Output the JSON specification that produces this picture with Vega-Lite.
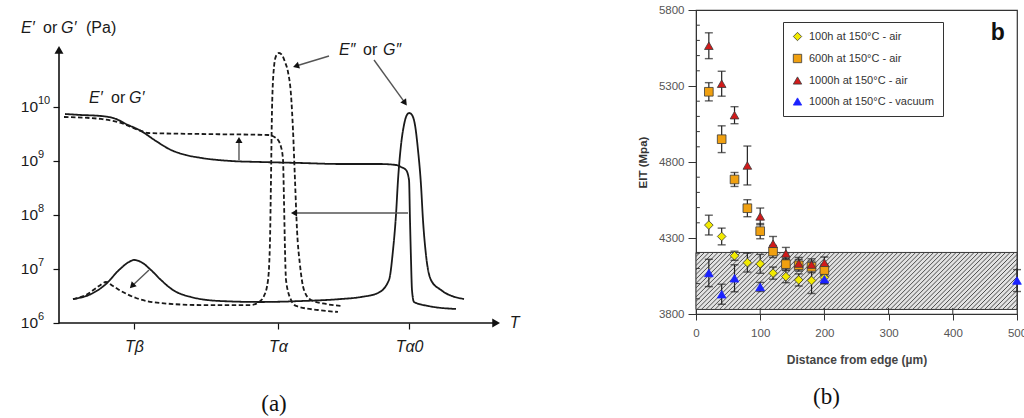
{
  "$schema": "https://vega.github.io/schema/vega-lite/v6.json",
  "background": "white",
  "padding": {"left": 20, "top": 3, "right": 5, "bottom": 5},
  "bounds": "flush",
  "spacing": 195,
  "config": {"font": "Liberation Sans", "view": {"stroke": null}, "axis": {"grid": false}},
  "resolve": {
    "scale": {"x": "independent", "y": "independent", "color": "independent", "shape": "independent", "stroke": "independent", "strokeDash": "independent", "angle": "independent"},
    "legend": {"color": "independent", "shape": "independent", "stroke": "independent", "strokeDash": "independent"}
  },
  "datasets": {
    "curves": [
      {"q": "E′", "state": "initial", "T": 1.36, "modulus": 7.41e9},
      {"q": "E′", "state": "initial", "T": 4.98, "modulus": 7.11e9},
      {"q": "E′", "state": "initial", "T": 9.5, "modulus": 6.81e9},
      {"q": "E′", "state": "initial", "T": 12.9, "modulus": 6.0e9},
      {"q": "E′", "state": "initial", "T": 15.16, "modulus": 4.84e9},
      {"q": "E′", "state": "initial", "T": 18.55, "modulus": 3.6e9},
      {"q": "E′", "state": "initial", "T": 21.95, "modulus": 2.34e9},
      {"q": "E′", "state": "initial", "T": 25.34, "modulus": 1.6e9},
      {"q": "E′", "state": "initial", "T": 28.73, "modulus": 1.29e9},
      {"q": "E′", "state": "initial", "T": 32.13, "modulus": 1.14e9},
      {"q": "E′", "state": "initial", "T": 38.91, "modulus": 1.0e9},
      {"q": "E′", "state": "initial", "T": 45.7, "modulus": 9.57e8},
      {"q": "E′", "state": "initial", "T": 54.75, "modulus": 9.18e8},
      {"q": "E′", "state": "initial", "T": 63.8, "modulus": 8.79e8},
      {"q": "E′", "state": "initial", "T": 72.85, "modulus": 8.79e8},
      {"q": "E′", "state": "initial", "T": 76.24, "modulus": 8.43e8},
      {"q": "E′", "state": "initial", "T": 77.38, "modulus": 7.74e8},
      {"q": "E′", "state": "initial", "T": 78.51, "modulus": 6.81e8},
      {"q": "E′", "state": "initial", "T": 79.19, "modulus": 4.45e8},
      {"q": "E′", "state": "initial", "T": 79.41, "modulus": 8.07e7},
      {"q": "E′", "state": "initial", "T": 79.64, "modulus": 1.47e7},
      {"q": "E′", "state": "initial", "T": 79.86, "modulus": 4.08e6},
      {"q": "E′", "state": "initial", "T": 80.32, "modulus": 2.45e6},
      {"q": "E′", "state": "initial", "T": 83.48, "modulus": 2.07e6},
      {"q": "E′", "state": "initial", "T": 89.82, "modulus": 1.82e6},
      {"q": "E′", "state": "aged", "T": 1.13, "modulus": 6.53e9},
      {"q": "E′", "state": "aged", "T": 9.5, "modulus": 6.0e9},
      {"q": "E′", "state": "aged", "T": 14.03, "modulus": 5.06e9},
      {"q": "E′", "state": "aged", "T": 18.55, "modulus": 3.6e9},
      {"q": "E′", "state": "aged", "T": 20.14, "modulus": 3.3e9},
      {"q": "E′", "state": "aged", "T": 32.13, "modulus": 3.16e9},
      {"q": "E′", "state": "aged", "T": 47.29, "modulus": 3.03e9},
      {"q": "E′", "state": "aged", "T": 49.1, "modulus": 2.67e9},
      {"q": "E′", "state": "aged", "T": 50.23, "modulus": 1.82e9},
      {"q": "E′", "state": "aged", "T": 50.68, "modulus": 1.045e9},
      {"q": "E′", "state": "aged", "T": 50.9, "modulus": 1.9e8},
      {"q": "E′", "state": "aged", "T": 51.13, "modulus": 2.25e7},
      {"q": "E′", "state": "aged", "T": 51.36, "modulus": 6.25e6},
      {"q": "E′", "state": "aged", "T": 52.49, "modulus": 2.67e6},
      {"q": "E′", "state": "aged", "T": 53.62, "modulus": 2.07e6},
      {"q": "E′", "state": "aged", "T": 58.6, "modulus": 1.74e6},
      {"q": "E′", "state": "aged", "T": 63.12, "modulus": 1.6e6},
      {"q": "E″", "state": "initial", "T": 3.17, "modulus": 2.78e6},
      {"q": "E″", "state": "initial", "T": 7.24, "modulus": 3.44e6},
      {"q": "E″", "state": "initial", "T": 10.63, "modulus": 5.27e6},
      {"q": "E″", "state": "initial", "T": 13.57, "modulus": 9.57e6},
      {"q": "E″", "state": "initial", "T": 15.84, "modulus": 1.35e7},
      {"q": "E″", "state": "initial", "T": 16.97, "modulus": 1.47e7},
      {"q": "E″", "state": "initial", "T": 18.55, "modulus": 1.35e7},
      {"q": "E″", "state": "initial", "T": 20.81, "modulus": 9.57e6},
      {"q": "E″", "state": "initial", "T": 23.08, "modulus": 6.25e6},
      {"q": "E″", "state": "initial", "T": 25.79, "modulus": 4.08e6},
      {"q": "E″", "state": "initial", "T": 29.86, "modulus": 3.03e6},
      {"q": "E″", "state": "initial", "T": 36.65, "modulus": 2.55e6},
      {"q": "E″", "state": "initial", "T": 45.7, "modulus": 2.45e6},
      {"q": "E″", "state": "initial", "T": 54.75, "modulus": 2.55e6},
      {"q": "E″", "state": "initial", "T": 63.8, "modulus": 2.78e6},
      {"q": "E″", "state": "initial", "T": 68.33, "modulus": 3.03e6},
      {"q": "E″", "state": "initial", "T": 72.17, "modulus": 3.6e6},
      {"q": "E″", "state": "initial", "T": 74.66, "modulus": 6.25e6},
      {"q": "E″", "state": "initial", "T": 75.57, "modulus": 2.25e7},
      {"q": "E″", "state": "initial", "T": 76.24, "modulus": 1.0e8},
      {"q": "E″", "state": "initial", "T": 76.7, "modulus": 4.45e8},
      {"q": "E″", "state": "initial", "T": 77.38, "modulus": 1.98e9},
      {"q": "E″", "state": "initial", "T": 78.05, "modulus": 4.64e9},
      {"q": "E″", "state": "initial", "T": 78.51, "modulus": 6.53e9},
      {"q": "E″", "state": "initial", "T": 79.19, "modulus": 7.74e9},
      {"q": "E″", "state": "initial", "T": 79.86, "modulus": 7.11e9},
      {"q": "E″", "state": "initial", "T": 80.54, "modulus": 4.64e9},
      {"q": "E″", "state": "initial", "T": 81.22, "modulus": 1.6e9},
      {"q": "E″", "state": "initial", "T": 81.9, "modulus": 3.6e8},
      {"q": "E″", "state": "initial", "T": 82.35, "modulus": 8.07e7},
      {"q": "E″", "state": "initial", "T": 83.03, "modulus": 1.82e7},
      {"q": "E″", "state": "initial", "T": 84.16, "modulus": 6.25e6},
      {"q": "E″", "state": "initial", "T": 86.43, "modulus": 4.08e6},
      {"q": "E″", "state": "initial", "T": 91.63, "modulus": 2.78e6},
      {"q": "E″", "state": "aged", "T": 3.17, "modulus": 2.78e6},
      {"q": "E″", "state": "aged", "T": 6.11, "modulus": 3.3e6},
      {"q": "E″", "state": "aged", "T": 9.05, "modulus": 4.84e6},
      {"q": "E″", "state": "aged", "T": 10.63, "modulus": 5.74e6},
      {"q": "E″", "state": "aged", "T": 12.22, "modulus": 4.84e6},
      {"q": "E″", "state": "aged", "T": 14.03, "modulus": 3.92e6},
      {"q": "E″", "state": "aged", "T": 17.42, "modulus": 2.9e6},
      {"q": "E″", "state": "aged", "T": 23.08, "modulus": 2.34e6},
      {"q": "E″", "state": "aged", "T": 32.13, "modulus": 2.15e6},
      {"q": "E″", "state": "aged", "T": 43.44, "modulus": 2.15e6},
      {"q": "E″", "state": "aged", "T": 45.25, "modulus": 2.45e6},
      {"q": "E″", "state": "aged", "T": 46.38, "modulus": 3.16e6},
      {"q": "E″", "state": "aged", "T": 47.29, "modulus": 6.25e6},
      {"q": "E″", "state": "aged", "T": 47.74, "modulus": 3.44e7},
      {"q": "E″", "state": "aged", "T": 47.96, "modulus": 4.45e8},
      {"q": "E″", "state": "aged", "T": 48.19, "modulus": 8.79e9},
      {"q": "E″", "state": "aged", "T": 48.64, "modulus": 5.5e10},
      {"q": "E″", "state": "aged", "T": 49.1, "modulus": 8.79e10},
      {"q": "E″", "state": "aged", "T": 49.77, "modulus": 1.0e11},
      {"q": "E″", "state": "aged", "T": 50.45, "modulus": 9.18e10},
      {"q": "E″", "state": "aged", "T": 51.13, "modulus": 6.81e10},
      {"q": "E″", "state": "aged", "T": 51.81, "modulus": 4.45e10},
      {"q": "E″", "state": "aged", "T": 52.49, "modulus": 1.67e10},
      {"q": "E″", "state": "aged", "T": 52.94, "modulus": 3.75e9},
      {"q": "E″", "state": "aged", "T": 53.39, "modulus": 4.45e8},
      {"q": "E″", "state": "aged", "T": 53.85, "modulus": 5.27e7},
      {"q": "E″", "state": "aged", "T": 54.52, "modulus": 1.19e7},
      {"q": "E″", "state": "aged", "T": 55.43, "modulus": 4.08e6},
      {"q": "E″", "state": "aged", "T": 57.01, "modulus": 2.67e6},
      {"q": "E″", "state": "aged", "T": 60.41, "modulus": 2.25e6},
      {"q": "E″", "state": "aged", "T": 63.8, "modulus": 2.07e6}
    ],
    "axesA": [
      {"axis": "modulus", "T1": 0, "v1": 1e6, "T2": 0, "v2": 1.14e11, "angle": 0},
      {"axis": "temperature", "T1": 0, "v1": 1e6, "T2": 98.9, "v2": 1e6, "angle": 90}
    ],
    "tickLabelsA": [
      {"modulus": 1e6, "exponent": "6"},
      {"modulus": 1e7, "exponent": "7"},
      {"modulus": 1e8, "exponent": "8"},
      {"modulus": 1e9, "exponent": "9"},
      {"modulus": 1e10, "exponent": "10"}
    ],
    "arrows": [
      {"note": "E′ rise", "T1": 40.72, "v1": 1.045e9, "T2": 40.72, "v2": 2.45e9, "angle": 0},
      {"note": "Tα shift", "T1": 78.96, "v1": 1.09e8, "T2": 53.17, "v2": 1.09e8, "angle": 270},
      {"note": "Tβ drop", "T1": 20.36, "v1": 9.57e6, "T2": 16.52, "v2": 4.84e6, "angle": 225},
      {"note": "label to Tα peak", "T1": 61.09, "v1": 8.79e10, "T2": 53.62, "v2": 5.74e10, "angle": 253},
      {"note": "label to Tα0 peak", "T1": 71.27, "v1": 7.41e10, "T2": 78.28, "v2": 1.19e10, "angle": 144}
    ],
    "italicLabels": [
      {"text": "E′", "T": -8.6, "modulus": 2.9e11},
      {"text": "G′", "T": 0.45, "modulus": 2.9e11},
      {"text": "E′", "T": 6.79, "modulus": 1.47e10},
      {"text": "G′", "T": 15.84, "modulus": 1.47e10},
      {"text": "E″", "T": 63.35, "modulus": 1.14e11},
      {"text": "G″", "T": 73.3, "modulus": 1.14e11},
      {"text": "T", "T": 102.0, "modulus": 1e6}
    ],
    "romanLabels": [
      {"text": "or", "T": -3.62, "modulus": 2.9e11},
      {"text": "(Pa)", "T": 6.11, "modulus": 2.9e11},
      {"text": "or", "T": 11.76, "modulus": 1.47e10},
      {"text": "or", "T": 68.78, "modulus": 1.14e11}
    ],
    "eit": [
      {"series": "100h at 150°C - air", "d": 20, "eit": 4385, "lo": 4320, "hi": 4450},
      {"series": "100h at 150°C - air", "d": 40, "eit": 4310, "lo": 4255, "hi": 4365},
      {"series": "100h at 150°C - air", "d": 60, "eit": 4183, "lo": 4153, "hi": 4213},
      {"series": "100h at 150°C - air", "d": 80, "eit": 4138, "lo": 4076, "hi": 4200},
      {"series": "100h at 150°C - air", "d": 100, "eit": 4130, "lo": 4068, "hi": 4192},
      {"series": "100h at 150°C - air", "d": 120, "eit": 4069, "lo": 4029, "hi": 4109},
      {"series": "100h at 150°C - air", "d": 140, "eit": 4046, "lo": 4006, "hi": 4086},
      {"series": "100h at 150°C - air", "d": 160, "eit": 4024, "lo": 3984, "hi": 4064},
      {"series": "100h at 150°C - air", "d": 180, "eit": 4020, "lo": 3935, "hi": 4105},
      {"series": "100h at 150°C - air", "d": 200, "eit": 4040, "lo": 4000, "hi": 4080},
      {"series": "600h at 150°C - air", "d": 20, "eit": 5262, "lo": 5202, "hi": 5322},
      {"series": "600h at 150°C - air", "d": 40, "eit": 4950, "lo": 4862, "hi": 5038},
      {"series": "600h at 150°C - air", "d": 60, "eit": 4685, "lo": 4639, "hi": 4731},
      {"series": "600h at 150°C - air", "d": 80, "eit": 4496, "lo": 4440, "hi": 4552},
      {"series": "600h at 150°C - air", "d": 100, "eit": 4345, "lo": 4295, "hi": 4395},
      {"series": "600h at 150°C - air", "d": 120, "eit": 4211, "lo": 4171, "hi": 4251},
      {"series": "600h at 150°C - air", "d": 140, "eit": 4128, "lo": 4090, "hi": 4166},
      {"series": "600h at 150°C - air", "d": 160, "eit": 4120, "lo": 4082, "hi": 4158},
      {"series": "600h at 150°C - air", "d": 180, "eit": 4110, "lo": 4072, "hi": 4148},
      {"series": "600h at 150°C - air", "d": 200, "eit": 4089, "lo": 4051, "hi": 4127},
      {"series": "1000h at 150°C - air", "d": 20, "eit": 5565, "lo": 5480, "hi": 5650},
      {"series": "1000h at 150°C - air", "d": 40, "eit": 5315, "lo": 5233, "hi": 5397},
      {"series": "1000h at 150°C - air", "d": 60, "eit": 5108, "lo": 5052, "hi": 5164},
      {"series": "1000h at 150°C - air", "d": 80, "eit": 4777, "lo": 4649, "hi": 4905},
      {"series": "1000h at 150°C - air", "d": 100, "eit": 4442, "lo": 4387, "hi": 4497},
      {"series": "1000h at 150°C - air", "d": 120, "eit": 4262, "lo": 4214, "hi": 4310},
      {"series": "1000h at 150°C - air", "d": 140, "eit": 4198, "lo": 4158, "hi": 4238},
      {"series": "1000h at 150°C - air", "d": 160, "eit": 4132, "lo": 4092, "hi": 4172},
      {"series": "1000h at 150°C - air", "d": 180, "eit": 4125, "lo": 4087, "hi": 4163},
      {"series": "1000h at 150°C - air", "d": 200, "eit": 4137, "lo": 4099, "hi": 4175},
      {"series": "1000h at 150°C - vacuum", "d": 20, "eit": 4070, "lo": 3980, "hi": 4160},
      {"series": "1000h at 150°C - vacuum", "d": 40, "eit": 3930, "lo": 3864, "hi": 3996},
      {"series": "1000h at 150°C - vacuum", "d": 60, "eit": 4035, "lo": 3946, "hi": 4124},
      {"series": "1000h at 150°C - vacuum", "d": 100, "eit": 3978, "lo": 3948, "hi": 4008},
      {"series": "1000h at 150°C - vacuum", "d": 200, "eit": 4029, "lo": 3999, "hi": 4059},
      {"series": "1000h at 150°C - vacuum", "d": 500, "eit": 4020, "lo": 3948, "hi": 4092}
    ]
  },
  "hconcat": [
    {
      "width": 442,
      "height": 313,
      "view": {"stroke": null},
      "title": {"text": "(a)", "orient": "bottom", "anchor": "middle", "frame": "group", "offset": 39, "dx": -6, "font": "Liberation Serif", "fontSize": 23, "fontWeight": "normal", "color": "#111"},
      "layer": [
        {
          "data": {"name": "curves"},
          "mark": {"type": "line", "interpolate": "monotone", "strokeWidth": 1.8, "color": "#1a1a1a"},
          "encoding": {
            "x": {"field": "T", "type": "quantitative", "title": null,
              "scale": {"domain": [0, 100], "nice": false, "zero": false},
              "axis": {"values": [16.97, 49.55, 79.19], "labelExpr": "datum.value < 30 ? 'Tβ' : datum.value < 60 ? 'Tα' : 'Tα0'", "domain": false, "tickSize": 6, "tickColor": "#111", "tickWidth": 1.2, "labelFontSize": 16, "labelFontStyle": "italic", "labelColor": "#1a1a1a", "labelPadding": 9, "grid": false}},
            "y": {"field": "modulus", "type": "quantitative", "title": null,
              "scale": {"type": "log", "domain": [1e6, 6.25e11], "nice": false},
              "axis": {"values": [1e6, 1e7, 1e8, 1e9, 1e10], "labels": false, "domain": false, "tickSize": 6, "tickColor": "#111", "tickWidth": 1.2, "grid": false}},
            "detail": {"field": "q"},
            "strokeDash": {"field": "state", "type": "nominal", "scale": {"domain": ["initial", "aged"], "range": [[1, 0], [4.5, 2.5]]}, "legend": null}
          }
        },
        {
          "data": {"name": "tickLabelsA"},
          "mark": {"type": "text", "align": "right", "baseline": "middle", "fontSize": 15.5, "color": "#1a1a1a"},
          "encoding": {
            "x": {"datum": -4.75},
            "y": {"field": "modulus", "type": "quantitative", "title": null},
            "text": {"value": "10"}
          }
        },
        {
          "data": {"name": "tickLabelsA"},
          "mark": {"type": "text", "align": "left", "baseline": "middle", "fontSize": 11, "dy": -6, "color": "#1a1a1a"},
          "encoding": {
            "x": {"datum": -4.75},
            "y": {"field": "modulus", "type": "quantitative", "title": null},
            "text": {"field": "exponent"}
          }
        },
        {
          "data": {"name": "axesA"},
          "mark": {"type": "rule", "color": "#111", "strokeWidth": 1.6},
          "encoding": {
            "x": {"field": "T1", "type": "quantitative", "title": null},
            "y": {"field": "v1", "type": "quantitative", "title": null},
            "x2": {"field": "T2"},
            "y2": {"field": "v2"}
          }
        },
        {
          "data": {"name": "axesA"},
          "mark": {"type": "point", "shape": "triangle-up", "filled": true, "color": "#111", "size": 80, "opacity": 1},
          "encoding": {
            "x": {"field": "T2", "type": "quantitative", "title": null},
            "y": {"field": "v2", "type": "quantitative", "title": null},
            "angle": {"field": "angle", "type": "quantitative", "scale": {"domain": [0, 360], "range": [0, 360]}}
          }
        },
        {
          "data": {"name": "arrows"},
          "mark": {"type": "rule", "color": "#555", "strokeWidth": 1.4},
          "encoding": {
            "x": {"field": "T1", "type": "quantitative", "title": null},
            "y": {"field": "v1", "type": "quantitative", "title": null},
            "x2": {"field": "T2"},
            "y2": {"field": "v2"}
          }
        },
        {
          "data": {"name": "arrows"},
          "mark": {"type": "point", "shape": "triangle-up", "filled": true, "color": "#111", "size": 50, "opacity": 1},
          "encoding": {
            "x": {"field": "T2", "type": "quantitative", "title": null},
            "y": {"field": "v2", "type": "quantitative", "title": null},
            "angle": {"field": "angle", "type": "quantitative", "scale": {"domain": [0, 360], "range": [0, 360]}}
          }
        },
        {
          "data": {"name": "italicLabels"},
          "mark": {"type": "text", "align": "left", "baseline": "middle", "fontSize": 16, "fontStyle": "italic", "color": "#1a1a1a"},
          "encoding": {
            "x": {"field": "T", "type": "quantitative", "title": null},
            "y": {"field": "modulus", "type": "quantitative", "title": null},
            "text": {"field": "text"}
          }
        },
        {
          "data": {"name": "romanLabels"},
          "mark": {"type": "text", "align": "left", "baseline": "middle", "fontSize": 16, "color": "#1a1a1a"},
          "encoding": {
            "x": {"field": "T", "type": "quantitative", "title": null},
            "y": {"field": "modulus", "type": "quantitative", "title": null},
            "text": {"field": "text"}
          }
        }
      ]
    },
    {
      "width": 321,
      "height": 304,
      "view": {"stroke": "#333", "strokeWidth": 1.2},
      "title": {"text": "(b)", "orient": "bottom", "anchor": "middle", "frame": "group", "offset": 20, "dx": -30, "font": "Liberation Serif", "fontSize": 23, "fontWeight": "normal", "color": "#111"},
      "layer": [
        {
          "data": {"values": [{"region": "reference", "from": 0, "to": 500, "lo": 3830, "hi": 4205}]},
          "mark": {"type": "rect", "fill": "#e2e2e2", "stroke": "#333", "strokeWidth": 1},
          "encoding": {
            "x": {"field": "from", "type": "quantitative", "title": "Distance from edge (µm)",
              "scale": {"domain": [0, 500], "nice": false, "zero": false},
              "axis": {"values": [0, 100, 200, 300, 400, 500], "format": "d", "tickSize": 6, "tickColor": "#333", "domainColor": "#333", "labelFontSize": 11.5, "labelColor": "#555", "labelPadding": 7, "labelFlush": false, "titleFontSize": 12, "titleFontWeight": "bold", "titleColor": "#444", "titlePadding": 16, "grid": false}},
            "x2": {"field": "to"},
            "y": {"field": "lo", "type": "quantitative", "title": "EIT (Mpa)",
              "scale": {"domain": [3800, 5800], "nice": false, "zero": false},
              "axis": {"values": [3800, 4300, 4800, 5300, 5800], "format": "d", "tickSize": 8, "tickColor": "#333", "domainColor": "#333", "labelFontSize": 11.5, "labelColor": "#555", "labelPadding": 4, "labelFlush": false, "titleFontSize": 11.5, "titleFontWeight": "bold", "titleColor": "#333", "titlePadding": 10, "grid": false}},
            "y2": {"field": "hi"}
          }
        },
        {
          "data": {"values": [{"region": "reference", "mid": 250, "center": 4017.5}]},
          "mark": {"type": "point", "clip": true, "filled": false, "color": "#4d4d4d", "strokeWidth": 1, "opacity": 1, "size": 103041,
            "shape": "M-1.33,.1775l.355-.355m-.327.355l.355-.355m-.327.355l.355-.355m-.327.355l.355-.355m-.327.355l.355-.355m-.327.355l.355-.355m-.327.355l.355-.355m-.327.355l.355-.355m-.327.355l.355-.355m-.327.355l.355-.355m-.327.355l.355-.355m-.327.355l.355-.355m-.327.355l.355-.355m-.327.355l.355-.355m-.327.355l.355-.355m-.327.355l.355-.355m-.327.355l.355-.355m-.327.355l.355-.355m-.327.355l.355-.355m-.327.355l.355-.355m-.327.355l.355-.355m-.327.355l.355-.355m-.327.355l.355-.355m-.327.355l.355-.355m-.327.355l.355-.355m-.327.355l.355-.355m-.327.355l.355-.355m-.327.355l.355-.355m-.327.355l.355-.355m-.327.355l.355-.355m-.327.355l.355-.355m-.327.355l.355-.355m-.327.355l.355-.355m-.327.355l.355-.355m-.327.355l.355-.355m-.327.355l.355-.355m-.327.355l.355-.355m-.327.355l.355-.355m-.327.355l.355-.355m-.327.355l.355-.355m-.327.355l.355-.355m-.327.355l.355-.355m-.327.355l.355-.355m-.327.355l.355-.355m-.327.355l.355-.355m-.327.355l.355-.355m-.327.355l.355-.355m-.327.355l.355-.355m-.327.355l.355-.355m-.327.355l.355-.355m-.327.355l.355-.355m-.327.355l.355-.355m-.327.355l.355-.355m-.327.355l.355-.355m-.327.355l.355-.355m-.327.355l.355-.355m-.327.355l.355-.355m-.327.355l.355-.355m-.327.355l.355-.355m-.327.355l.355-.355m-.327.355l.355-.355m-.327.355l.355-.355m-.327.355l.355-.355m-.327.355l.355-.355m-.327.355l.355-.355m-.327.355l.355-.355m-.327.355l.355-.355m-.327.355l.355-.355m-.327.355l.355-.355m-.327.355l.355-.355m-.327.355l.355-.355m-.327.355l.355-.355m-.327.355l.355-.355m-.327.355l.355-.355m-.327.355l.355-.355m-.327.355l.355-.355m-.327.355l.355-.355m-.327.355l.355-.355m-.327.355l.355-.355m-.327.355l.355-.355m-.327.355l.355-.355m-.327.355l.355-.355m-.327.355l.355-.355m-.327.355l.355-.355m-.327.355"},
          "encoding": {
            "x": {"field": "mid", "type": "quantitative", "title": "Distance from edge (µm)"},
            "y": {"field": "center", "type": "quantitative", "title": "EIT (Mpa)"}
          }
        },
        {
          "data": {"values": [{"eit": 3900}, {"eit": 4000}, {"eit": 4100}, {"eit": 4200}, {"eit": 4400}, {"eit": 4500}, {"eit": 4600}, {"eit": 4700}, {"eit": 4900}, {"eit": 5000}, {"eit": 5100}, {"eit": 5200}, {"eit": 5400}, {"eit": 5500}, {"eit": 5600}, {"eit": 5700}]},
          "mark": {"type": "rule", "color": "#333", "strokeWidth": 1},
          "encoding": {
            "y": {"field": "eit", "type": "quantitative", "title": "EIT (Mpa)"},
            "x": {"datum": 0},
            "x2": {"datum": 6}
          }
        },
        {
          "data": {"values": [{"d": 100}, {"d": 200}, {"d": 300}, {"d": 400}]},
          "mark": {"type": "rule", "color": "#333", "strokeWidth": 1},
          "encoding": {
            "x": {"field": "d", "type": "quantitative", "title": "Distance from edge (µm)"},
            "y": {"datum": 3800},
            "y2": {"datum": 3840}
          }
        },
        {
          "data": {"name": "eit"},
          "mark": {"type": "errorbar", "orient": "vertical", "ticks": {"size": 8, "thickness": 1.4, "color": "#222"}, "rule": {"strokeWidth": 1.2, "color": "#222"}},
          "encoding": {
            "x": {"field": "d", "type": "quantitative", "title": "Distance from edge (µm)"},
            "y": {"field": "lo", "type": "quantitative", "title": "EIT (Mpa)"},
            "y2": {"field": "hi"}
          }
        },
        {
          "data": {"name": "eit"},
          "mark": {"type": "point", "filled": true, "opacity": 1, "strokeWidth": 0.8, "size": 75},
          "encoding": {
            "x": {"field": "d", "type": "quantitative", "title": "Distance from edge (µm)"},
            "y": {"field": "eit", "type": "quantitative", "title": "EIT (Mpa)"},
            "shape": {"field": "series", "type": "nominal", "sort": null,
              "scale": {"domain": ["100h at 150°C - air", "600h at 150°C - air", "1000h at 150°C - air", "1000h at 150°C - vacuum"], "range": ["diamond", "square", "triangle-up", "triangle-up"]},
              "legend": {"title": null, "orient": "none", "legendX": 87, "legendY": 12, "direction": "vertical", "strokeColor": "#333", "fillColor": "#fff", "padding": 9, "labelFontSize": 11, "labelColor": "#333", "symbolSize": 70, "rowPadding": 9, "labelOffset": 6, "symbolStrokeWidth": 0.8}},
            "color": {"field": "series", "type": "nominal", "sort": null,
              "scale": {"domain": ["100h at 150°C - air", "600h at 150°C - air", "1000h at 150°C - air", "1000h at 150°C - vacuum"], "range": ["#f2ea00", "#f0a010", "#d21a1a", "#1a22ff"]},
              "legend": {"title": null, "orient": "none", "legendX": 87, "legendY": 12, "direction": "vertical", "strokeColor": "#333", "fillColor": "#fff", "padding": 9, "labelFontSize": 11, "labelColor": "#333", "symbolSize": 70, "rowPadding": 9, "labelOffset": 6, "symbolStrokeWidth": 0.8}},
            "stroke": {"field": "series", "type": "nominal", "sort": null,
              "scale": {"domain": ["100h at 150°C - air", "600h at 150°C - air", "1000h at 150°C - air", "1000h at 150°C - vacuum"], "range": ["#3a3a3a", "#3a3a3a", "#3a3a3a", "#1a22ff"]},
              "legend": {"title": null, "orient": "none", "legendX": 87, "legendY": 12, "direction": "vertical", "strokeColor": "#333", "fillColor": "#fff", "padding": 9, "labelFontSize": 11, "labelColor": "#333", "symbolSize": 70, "rowPadding": 9, "labelOffset": 6, "symbolStrokeWidth": 0.8}}
          }
        },
        {
          "data": {"values": [{"panel": "b", "d": 470, "eit": 5648}]},
          "mark": {"type": "text", "fontSize": 23, "fontWeight": "bold", "color": "#111", "align": "center", "baseline": "middle"},
          "encoding": {
            "x": {"field": "d", "type": "quantitative", "title": "Distance from edge (µm)"},
            "y": {"field": "eit", "type": "quantitative", "title": "EIT (Mpa)"},
            "text": {"field": "panel"}
          }
        }
      ]
    }
  ]
}
